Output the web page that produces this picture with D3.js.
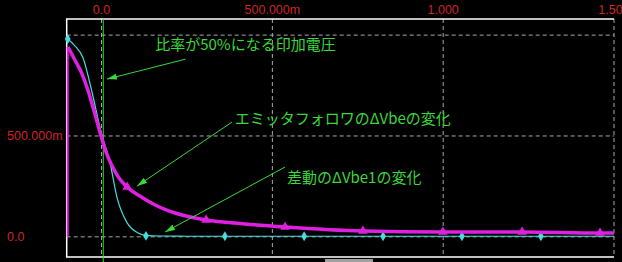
<!DOCTYPE html>
<html>
<head>
<meta charset="utf-8">
<script src="https://cdn.jsdelivr.net/npm/d3@7"></script>
<style>
  html, body { margin: 0; padding: 0; background: #000; overflow: hidden; }
  svg { display: block; }
</style>
</head>
<body>
<svg id="chart" width="622" height="262"></svg>
<script>
// x ticks (top) and y ticks (left)
const xTicks = [0, 0.5, 1.0, 1.5];
const xTickLabels = ['0.0', '500.000m', '1.000', '1.500'];
const yTicks = [0, 0.5, 1.0];
const yTickLabels = ['0.0', '500.000m', ''];

// differential pair dVbe1 (cyan, thin)
const cyanX = [-0.099, -0.08, -0.054, -0.028, -0.0015, 0.025, 0.045, 0.075, 0.107, 0.130, 0.171, 0.25, 0.5, 1.0, 1.5];
const cyanY = [0.981, 0.951, 0.887, 0.718, 0.52, 0.366, 0.197, 0.069, 0.019, 0.007, 0.004, 0.003, 0.003, 0.003, 0.003];
const cyanMarkX = [-0.099, 0.130, 0.361, 0.593, 0.824, 1.055, 1.286];
const cyanMarkY = [0.981, 0.005, 0.003, 0.003, 0.003, 0.003, 0.003];

// emitter follower dVbe (magenta, thick)
const magX = [-0.099, -0.098, -0.078, -0.057, -0.040, -0.022, -0.004, 0.013, 0.031, 0.051, 0.075, 0.121, 0.157, 0.215, 0.306, 0.42, 0.537, 0.765, 0.999, 1.231, 1.459, 1.5];
const magY = [0.0, 0.941, 0.877, 0.807, 0.728, 0.624, 0.515, 0.421, 0.351, 0.292, 0.247, 0.193, 0.158, 0.118, 0.083, 0.064, 0.049, 0.029, 0.024, 0.024, 0.019, 0.019];
const magMarkX = [0.075, 0.306, 0.537, 0.765, 0.999, 1.231, 1.459];
const magMarkY = [0.247, 0.083, 0.049, 0.029, 0.024, 0.024, 0.019];

// cursor for 50% ratio
const cursorX = 0.005;

// annotations: text position in data units, arrow tail/tip in data units
const notes = [
  { text: '比率が50%になる印加電圧', x: 0.157, y: 0.958, tail: [0.246, 0.881], tip: [0.016, 0.782] },
  { text: 'エミッタフォロワのΔVbeの変化', x: 0.390, y: 0.594, tail: [0.382, 0.569], tip: [0.104, 0.252] },
  { text: '差動のΔVbe1の変化', x: 0.543, y: 0.297, tail: [0.537, 0.346], tip: [0.186, 0.024] }
];

const svg = d3.select('#chart');
const plotLeft = 66.7, plotRight = 614, plotTop = 19, plotBottom = 257;

const x = d3.scaleLinear().domain([-0.102, 1.5]).range([plotLeft, plotRight]);
const y = d3.scaleLinear().domain([-0.1, 1.08]).range([plotBottom, plotTop]);

const gridColor = '#a9a9a9';
const red = '#cc2626';
const green = '#3ad83a';

svg.append('rect').attr('width', 622).attr('height', 262).attr('fill', '#000');

// grid
svg.append('g').selectAll('line')
  .data(xTicks)
  .join('line')
  .attr('x1', d => x(d)).attr('x2', d => x(d))
  .attr('y1', plotTop).attr('y2', plotBottom)
  .attr('stroke', gridColor).attr('stroke-dasharray', '4,3');

svg.append('g').selectAll('line')
  .data(yTicks)
  .join('line')
  .attr('x1', plotLeft).attr('x2', plotRight)
  .attr('y1', d => y(d)).attr('y2', d => y(d))
  .attr('stroke', gridColor).attr('stroke-dasharray', '4,3');

// frame: top, left, bottom
svg.append('path')
  .attr('d', `M${plotRight},${plotTop}H${plotLeft}V${plotBottom}H${plotRight}`)
  .attr('fill', 'none').attr('stroke', '#fff').attr('stroke-width', 1.5);

// tick labels
svg.append('g').selectAll('text')
  .data(xTicks)
  .join('text')
  .attr('x', d => x(d)).attr('y', 10)
  .attr('text-anchor', 'middle').attr('dominant-baseline', 'central')
  .attr('fill', red).attr('font-family', 'Liberation Sans, Arial, sans-serif').attr('font-size', 12.5)
  .text((d, i) => xTickLabels[i]);

svg.append('g').selectAll('text')
  .data(yTicks)
  .join('text')
  .attr('x', 7).attr('y', d => y(d))
  .attr('dominant-baseline', 'central')
  .attr('fill', red).attr('font-family', 'Liberation Sans, Arial, sans-serif').attr('font-size', 12.5)
  .text((d, i) => yTickLabels[i]);

// cursor line
svg.append('line')
  .attr('x1', x(cursorX)).attr('x2', x(cursorX))
  .attr('y1', plotTop).attr('y2', 262)
  .attr('stroke', green).attr('stroke-width', 1);

// cyan trace
const cyan = cyanX.map((v, i) => [v, cyanY[i]]);
svg.append('path')
  .datum(cyan)
  .attr('d', d3.line().x(d => x(d[0])).y(d => y(d[1])).curve(d3.curveMonotoneX))
  .attr('fill', 'none').attr('stroke', '#45dede').attr('stroke-width', 1.2);

svg.append('g').selectAll('path')
  .data(cyanMarkX.map((v, i) => [v, cyanMarkY[i]]))
  .join('path')
  .attr('transform', d => `translate(${x(d[0])},${y(d[1])})`)
  .attr('d', d3.symbol(d3.symbolDiamond, 28))
  .attr('fill', '#45dede');

// magenta trace: vertical start, then the curve
const mag = magX.map((v, i) => [v, magY[i]]);
const magColor = '#e020e0';
svg.append('line')
  .attr('x1', x(mag[0][0])).attr('x2', x(mag[0][0]))
  .attr('y1', y(mag[0][1])).attr('y2', y(mag[1][1]))
  .attr('stroke', magColor).attr('stroke-width', 2);

svg.append('path')
  .datum(mag.slice(1))
  .attr('d', d3.line().x(d => x(d[0])).y(d => y(d[1])).curve(d3.curveMonotoneX))
  .attr('fill', 'none').attr('stroke', magColor).attr('stroke-width', 3.5)
  .attr('stroke-linejoin', 'round');

svg.append('g').selectAll('path')
  .data(magMarkX.map((v, i) => [v, magMarkY[i]]))
  .join('path')
  .attr('transform', d => `translate(${x(d[0])},${y(d[1])})`)
  .attr('d', d3.symbol(d3.symbolTriangle, 40))
  .attr('fill', magColor);

// annotations
svg.append('defs').append('marker')
  .attr('id', 'arrow')
  .attr('viewBox', '0 0 10 6')
  .attr('refX', 10).attr('refY', 3)
  .attr('markerWidth', 10).attr('markerHeight', 6)
  .attr('markerUnits', 'userSpaceOnUse')
  .attr('orient', 'auto')
  .append('path')
  .attr('d', 'M0,0L10,3L0,6Z')
  .attr('fill', green);

const $notes = svg.append('g').selectAll('g')
  .data(notes)
  .join('g');

$notes.append('line')
  .attr('x1', d => x(d.tail[0])).attr('y1', d => y(d.tail[1]))
  .attr('x2', d => x(d.tip[0])).attr('y2', d => y(d.tip[1]))
  .attr('stroke', green).attr('stroke-width', 1)
  .attr('marker-end', 'url(#arrow)');

$notes.append('text')
  .attr('x', d => x(d.x)).attr('y', d => y(d.y))
  .attr('dominant-baseline', 'central')
  .attr('fill', green)
  .attr('font-family', 'Noto Sans CJK JP, sans-serif').attr('font-size', 15)
  .text(d => d.text);

// scrollbar stub at the bottom
svg.append('rect')
  .attr('x', 325).attr('y', 259).attr('width', 48).attr('height', 3)
  .attr('fill', '#a0a0a0');
</script>
</body>
</html>
